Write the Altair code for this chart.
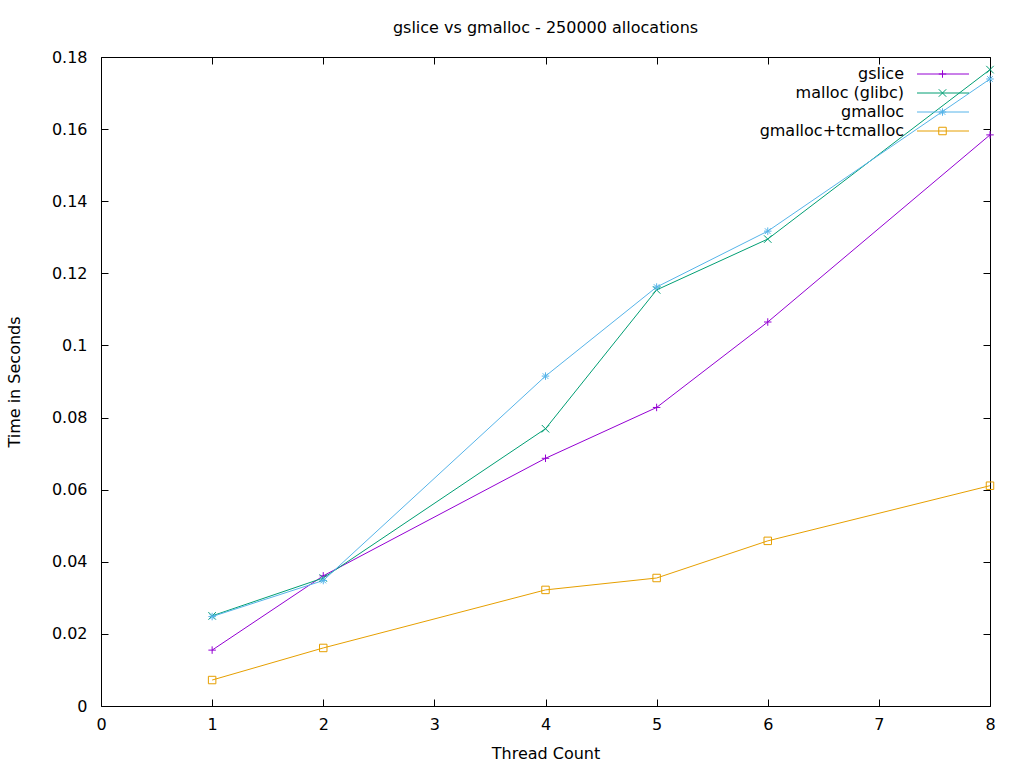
import altair as alt
import pandas as pd

# ---- data ----
threads = [1, 2, 4, 5, 6, 8]
series_names = ["gslice", "malloc (glibc)", "gmalloc", "gmalloc+tcmalloc"]
gslice = [0.0155, 0.0361, 0.0687, 0.0828, 0.1065, 0.1584]
malloc_glibc = [0.0250, 0.0355, 0.0769, 0.1154, 0.1295, 0.1765]
gmalloc = [0.0248, 0.0348, 0.0915, 0.1162, 0.1317, 0.1739]
tcmalloc = [0.0072, 0.0161, 0.0322, 0.0355, 0.0458, 0.0611]
colors = ["#9400d3", "#009e73", "#56b4e9", "#e69f00"]
x_ticks = [0, 1, 2, 3, 4, 5, 6, 7, 8]
y_ticks = [0, 0.02, 0.04, 0.06, 0.08, 0.1, 0.12, 0.14, 0.16, 0.18]

# point symbols like gnuplot (+, x, *, open square)
plus_path = "M-1,0L1,0M0,-1L0,1"
x_path = "M-1,-1L1,1M-1,1L1,-1"
star_path = "M-1,0L1,0M0,-1L0,1M-0.75,-0.75L0.75,0.75M-0.75,0.75L0.75,-0.75"
shapes = [plus_path, x_path, star_path, "square"]

values = [gslice, malloc_glibc, gmalloc, tcmalloc]
rows = []
for name, vals in zip(series_names, values):
    for t, v in zip(threads, vals):
        rows.append({"series": name, "threads": t, "time": v})
df = pd.DataFrame(rows)

W, H = 889, 649
FONT = "DejaVu Sans"
FS = 16
TICK = 7

color_scale = alt.Scale(domain=series_names, range=colors)
shape_scale = alt.Scale(domain=series_names, range=shapes)
xscale = alt.Scale(domain=[0, 8], nice=False, zero=False)
yscale = alt.Scale(domain=[0, 0.18], nice=False, zero=True)

x_bottom = alt.Axis(
    orient="bottom", values=x_ticks, format="d", offset=-TICK, tickSize=TICK,
    tickColor="black", tickWidth=1, domain=False, grid=False,
    labelFlush=False, labelOverlap=False, labelBaseline="alphabetic",
    labelPadding=23, labelFontSize=FS, labelFont=FONT, labelColor="black",
    title="Thread Count", titleFont=FONT, titleFontSize=FS, titleFontWeight="normal",
    titleColor="black", titleX=W / 2, titleY=59, titleBaseline="alphabetic",
    titleAlign="center",
)
y_left = alt.Axis(
    orient="left", values=y_ticks, format="~g", offset=-TICK, tickSize=TICK,
    tickColor="black", tickWidth=1, domain=False, grid=False,
    labelFlush=False, labelOverlap=False, labelPadding=14,
    labelFontSize=FS, labelFont=FONT, labelColor="black",
    title="Time in Seconds", titleFont=FONT, titleFontSize=FS, titleFontWeight="normal",
    titleColor="black", titleX=-89, titleY=H / 2, titleAngle=270,
    titleBaseline="alphabetic", titleAlign="center",
)
x_top = alt.Axis(orient="top", values=x_ticks, offset=-TICK, tickSize=TICK,
                 tickColor="black", domain=False, grid=False, labels=False, title=None)
y_right = alt.Axis(orient="right", values=y_ticks, offset=-TICK, tickSize=TICK,
                   tickColor="black", domain=False, grid=False, labels=False, title=None)

base = alt.Chart(df)

lines = base.mark_line(strokeWidth=1).encode(
    x=alt.X("threads:Q", scale=xscale, axis=x_bottom),
    y=alt.Y("time:Q", scale=yscale, axis=y_left),
    color=alt.Color("series:N", scale=color_scale, legend=None),
    order=alt.Order("threads:Q"),
)

points = base.mark_point(filled=False, strokeWidth=1, size=56, opacity=1).encode(
    x=alt.X("threads:Q", scale=xscale, axis=x_top),
    y=alt.Y("time:Q", scale=yscale, axis=y_right),
    color=alt.Color("series:N", scale=color_scale, legend=None),
    shape=alt.Shape("series:N", scale=shape_scale, legend=None),
)

# ---- gnuplot-style key, top right inside the plot ----
key_df = pd.DataFrame({
    "series": series_names,
    "ky": [17 + 19 * i for i in range(len(series_names))],
})
kbase = alt.Chart(key_df)
key_text = kbase.mark_text(align="right", baseline="middle", font=FONT,
                           fontSize=FS, color="black").encode(
    x=alt.value(803),
    y=alt.Y("ky:Q", scale=None),
    text="series:N",
)
key_line = kbase.mark_rule(strokeWidth=1).encode(
    x=alt.value(816), x2=alt.value(868),
    y=alt.Y("ky:Q", scale=None),
    color=alt.Color("series:N", scale=color_scale, legend=None),
)
key_pt = kbase.mark_point(filled=False, strokeWidth=1, size=56, opacity=1).encode(
    x=alt.value(841.5),
    y=alt.Y("ky:Q", scale=None),
    color=alt.Color("series:N", scale=color_scale, legend=None),
    shape=alt.Shape("series:N", scale=shape_scale, legend=None),
)

chart = alt.layer(lines, points, key_text, key_line, key_pt).resolve_axis(
    x="independent", y="independent"
).properties(
    width=W, height=H,
    padding={"left": 101, "top": 57, "right": 34, "bottom": 62},
    autosize=alt.AutoSizeParams(type="none"),
    background="white",
    title=alt.TitleParams(
        "gslice vs gmalloc - 250000 allocations", font=FONT, fontSize=FS,
        fontWeight="normal", color="black", anchor="middle", baseline="alphabetic",
        offset=0,
    ),
).configure_view(stroke="black", strokeWidth=1)

chart.save("out.html", embed_options={"renderer": "svg", "actions": False})
